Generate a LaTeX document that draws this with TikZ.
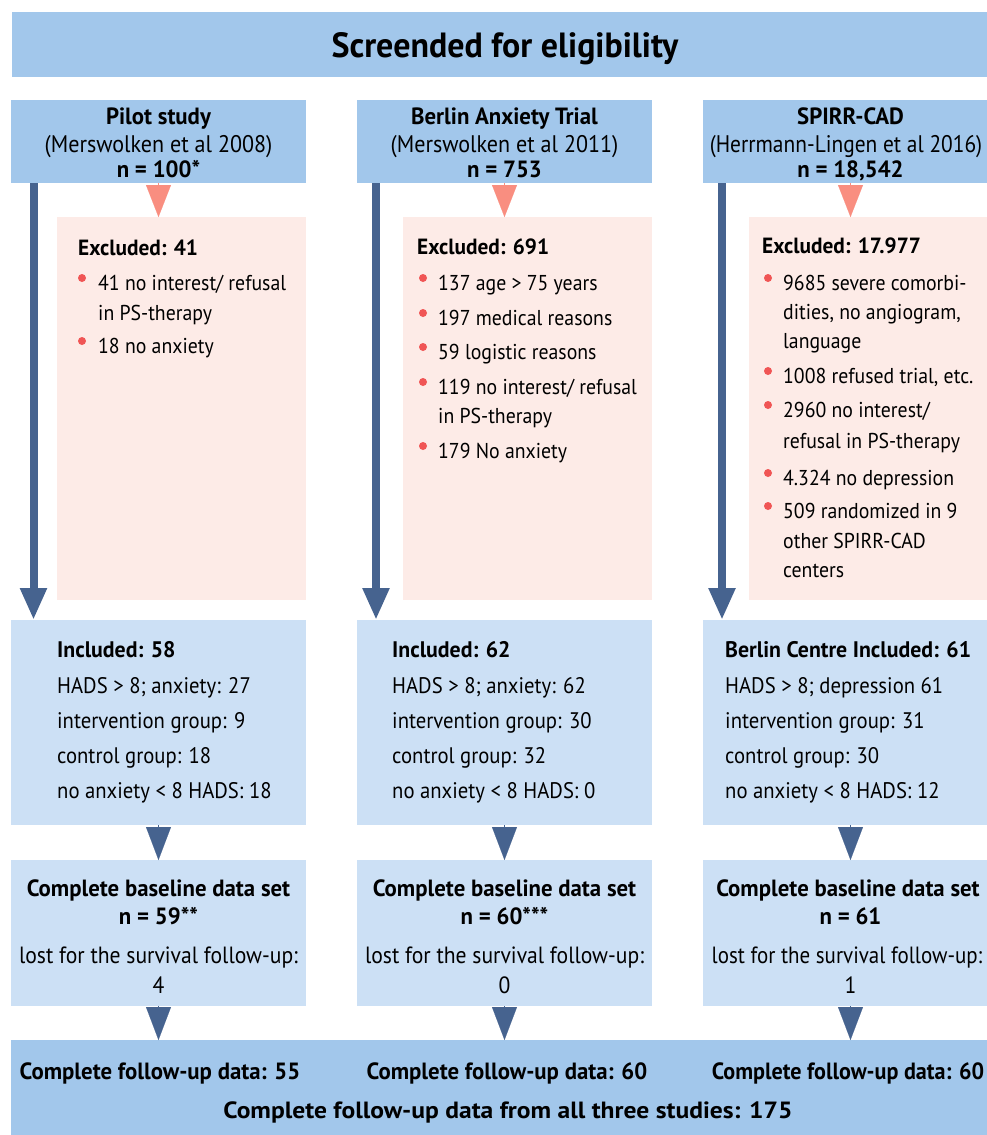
\documentclass[tikz,border=0pt]{standalone}
\usepackage{fontspec}
\setmainfont{PT Sans}[FakeStretch=0.92, BoldFeatures={FakeStretch=0.97}]
\usetikzlibrary{arrows.meta,calc}
\definecolor{hdrblue}{HTML}{A2C7EB}
\definecolor{boxblue}{HTML}{CCE0F5}
\definecolor{exclpink}{HTML}{FDEBE7}
\definecolor{salmon}{HTML}{F98E80}
\definecolor{darkarrow}{HTML}{46638F}
\definecolor{bulred}{HTML}{F05555}
\begin{document}
\begin{tikzpicture}[x=1pt,y=-1pt,
  boxbase/.style={rectangle, inner sep=0pt, outer sep=0pt, draw=none},
  titlebox/.style={boxbase, fill=hdrblue, minimum width=986pt, minimum height=65pt},
  hdrbox/.style={boxbase, fill=hdrblue, minimum width=295pt, minimum height=83pt},
  exbox/.style={boxbase, fill=exclpink, minimum width=249pt, minimum height=383pt},
  incbox/.style={boxbase, fill=boxblue, minimum width=295pt, minimum height=205pt},
  blbox/.style={boxbase, fill=boxblue, minimum width=295pt, minimum height=146pt},
  botbox/.style={boxbase, fill=hdrblue, minimum width=987pt, minimum height=100pt},
  mainarrow/.style={draw=darkarrow, line width=8pt, -{Triangle[width=25pt,length=32pt]}},
  darktri/.style={draw=darkarrow, fill=darkarrow, line width=0.1pt, -{Triangle[width=25pt,length=33pt]}},
  pinktri/.style={draw=salmon, fill=salmon, line width=0.1pt, -{Triangle[width=25pt,length=32pt]}},
  ttl/.style={inner sep=0pt, anchor=base, font=\fontsize{35}{40}\selectfont\bfseries},
  hd/.style={inner sep=0pt, anchor=base, font=\fontsize{24}{28}\selectfont},
  hdb/.style={hd, font=\fontsize{23.5}{28}\selectfont\bfseries},
  ex/.style={inner sep=0pt, anchor=base west, font=\fontsize{21.5}{25}\selectfont},
  exb/.style={ex, font=\fontsize{22}{25}\selectfont\bfseries},
  inc/.style={inner sep=0pt, anchor=base west, font=\fontsize{22.5}{27}\selectfont},
  incb/.style={inc, font=\fontsize{22.5}{27}\selectfont\bfseries},
  bl/.style={inner sep=0pt, anchor=base, font=\fontsize{23.5}{27}\selectfont},
  blb/.style={bl, font=\fontsize{23.5}{27}\selectfont\bfseries},
  fu/.style={inner sep=0pt, anchor=base, font=\fontsize{23.5}{29}\selectfont\bfseries},
  bul/.style={circle, fill=bulred, inner sep=0pt, minimum size=8pt}
]
\clip (0,0) rectangle (987,1135);
\fill[white] (0,0) rectangle (987,1135);

% title
\node[titlebox] (title) at (505,44.5) {};
\node[ttl] (titletext) at (505,57) {Screended for eligibility};

% headers
\node[hdrbox] (h1) at (158.5,141.5) {};
\node[hdrbox] (h2) at (504.5,141.5) {};
\node[hdrbox] (h3) at (850.5,141.5) {};
\node[hdb] (h1a) at (158.5,124) {Pilot study};
\node[hd] (h1b) at (158.5,152) {(Merswolken et al 2008)};
\node[hdb] (h1c) at (158.5,177) {n = 100*};
\node[hdb] (h2a) at (504.5,124) {Berlin Anxiety Trial};
\node[hd] (h2b) at (504.5,152) {(Merswolken et al 2011)};
\node[hdb] (h2c) at (504.5,177) {n = 753};
\node[hdb] (h3a) at (850.5,124) {SPIRR-CAD};
\node[hd] (h3b) at (846,152) {\scalebox{0.97}[1]{(Herrmann-Lingen et al 2016)}};
\node[hdb] (h3c) at (850.5,177) {n = 18,542};

% excluded boxes
\node[exbox] (e1) at (181.5,408.5) {};
\node[exbox] (e2) at (527.5,408.5) {};
\node[exbox] (e3) at (873.5,408.5) {};

% included boxes
\node[incbox] (i1) at (158.5,722.5) {};
\node[incbox] (i2) at (504.5,722.5) {};
\node[incbox] (i3) at (850.5,722.5) {};

% baseline boxes
\node[blbox] (b1) at (158.5,933) {};
\node[blbox] (b2) at (504.5,933) {};
\node[blbox] (b3) at (850.5,933) {};

% bottom box
\node[botbox] (bot) at (504.5,1090) {};

% connectors
\draw[mainarrow] ($(h1.south west)+(22.5,0)$) -- ($(i1.north west)+(22.5,0)$);
\draw[mainarrow] ($(h2.south west)+(19,0)$) -- ($(i2.north west)+(19,0)$);
\draw[mainarrow] ($(h3.south west)+(19,0)$) -- ($(i3.north west)+(19,0)$);
\draw[pinktri] (h1.south) -- (h1.south |- e1.north);
\draw[pinktri] (h2.south) -- (h2.south |- e2.north);
\draw[pinktri] (h3.south) -- (h3.south |- e3.north);
\draw[darktri] (i1.south) -- (b1.north);
\draw[darktri] (i2.south) -- (b2.north);
\draw[darktri] (i3.south) -- (b3.north);
\draw[darktri] (b1.south) -- (b1.south |- bot.north);
\draw[darktri] (b2.south) -- (b2.south |- bot.north);
\draw[darktri] (b3.south) -- (b3.south |- bot.north);

% excluded text col 1
\node[exb] (e1t) at (78,255) {Excluded: 41};
\node[bul] (e1b1) at (82,278) {};
\node[ex] (e1l1) at (98,290) {41 no interest/ refusal};
\node[ex] (e1l2) at (98,320) {in PS-therapy};
\node[bul] (e1b2) at (82,341) {};
\node[ex] (e1l3) at (98,353) {18 no anxiety};

% excluded text col 2
\node[exb] (e2t) at (417,254) {Excluded: 691};
\node[bul] (e2b1) at (423,278) {};
\node[ex] (e2l1) at (438,290) {137 age > 75 years};
\node[bul] (e2b2) at (423,313) {};
\node[ex] (e2l2) at (438,325) {197 medical reasons};
\node[bul] (e2b3) at (423,347) {};
\node[ex] (e2l3) at (438,359) {59 logistic reasons};
\node[bul] (e2b4) at (423,382) {};
\node[ex] (e2l4) at (438,394) {119 no interest/ refusal};
\node[ex] (e2l5) at (438,423) {in PS-therapy};
\node[bul] (e2b5) at (423,446) {};
\node[ex] (e2l6) at (438,458) {179 No anxiety};

% excluded text col 3
\node[exb] (e3t) at (762,253) {Excluded: 17.977};
\node[bul] (e3b1) at (768,278) {};
\node[ex] (e3l1) at (783,290) {9685 severe comorbi-};
\node[ex] (e3l2) at (783,319) {dities, no angiogram,};
\node[ex] (e3l3) at (783,348) {language};
\node[bul] (e3b2) at (768,371) {};
\node[ex] (e3l4) at (783,383) {1008 refused trial, etc.};
\node[bul] (e3b3) at (768,405) {};
\node[ex] (e3l5) at (783,417) {2960 no interest/};
\node[ex] (e3l6) at (783,448) {refusal in PS-therapy};
\node[bul] (e3b4) at (768,473) {};
\node[ex] (e3l7) at (783,485) {4.324 no depression};
\node[bul] (e3b5) at (768,506) {};
\node[ex] (e3l8) at (783,518) {509 randomized in 9};
\node[ex] (e3l9) at (783,548) {other SPIRR-CAD};
\node[ex] (e3l10) at (783,577) {centers};

% included text
\node[incb] (i1t) at (57,657) {Included: 58};
\node[inc] (i1l1) at (57,693) {HADS > 8; anxiety: 27};
\node[inc] (i1l2) at (57,728) {intervention group: 9};
\node[inc] (i1l3) at (57,763) {control group: 18};
\node[inc] (i1l4) at (57,798) {no anxiety < 8 HADS: 18};

\node[incb] (i2t) at (392,657) {Included: 62};
\node[inc] (i2l1) at (392,693) {HADS > 8; anxiety: 62};
\node[inc] (i2l2) at (392,728) {intervention group: 30};
\node[inc] (i2l3) at (392,763) {control group: 32};
\node[inc] (i2l4) at (392,798) {no anxiety < 8 HADS: 0};

\node[incb] (i3t) at (725,657) {Berlin Centre Included: 61};
\node[inc] (i3l1) at (725,693) {HADS > 8; depression 61};
\node[inc] (i3l2) at (725,728) {intervention group: 31};
\node[inc] (i3l3) at (725,763) {control group: 30};
\node[inc] (i3l4) at (725,798) {no anxiety < 8 HADS: 12};

% baseline text
\node[blb] (b1t) at (158.5,896) {Complete baseline data set};
\node[blb] (b1n) at (158.5,924) {n = 59**};
\node[bl] (b1l) at (158.5,963) {lost for the survival follow-up:};
\node[bl] (b1v) at (158.5,993) {4};
\node[blb] (b2t) at (504.5,896) {Complete baseline data set};
\node[blb] (b2n) at (504.5,924) {n = 60***};
\node[bl] (b2l) at (504.5,963) {lost for the survival follow-up:};
\node[bl] (b2v) at (504.5,993) {0};
\node[blb] (b3t) at (848,896) {Complete baseline data set};
\node[blb] (b3n) at (850.5,924) {n = 61};
\node[bl] (b3l) at (847,963) {\scalebox{0.97}[1]{lost for the survival follow-up:}};
\node[bl] (b3v) at (850.5,993) {1};

% bottom text
\node[fu] (f1) at (160,1079) {Complete follow-up data: 55};
\node[fu] (f2) at (507,1079) {Complete follow-up data: 60};
\node[fu] (f3) at (848,1079) {\scalebox{0.97}[1]{Complete follow-up data: 60}};
\node[fu] (fall) at (508,1118) {\scalebox{1.12}[1]{Complete follow-up data from all three studies: 175}};
\end{tikzpicture}
\end{document}
